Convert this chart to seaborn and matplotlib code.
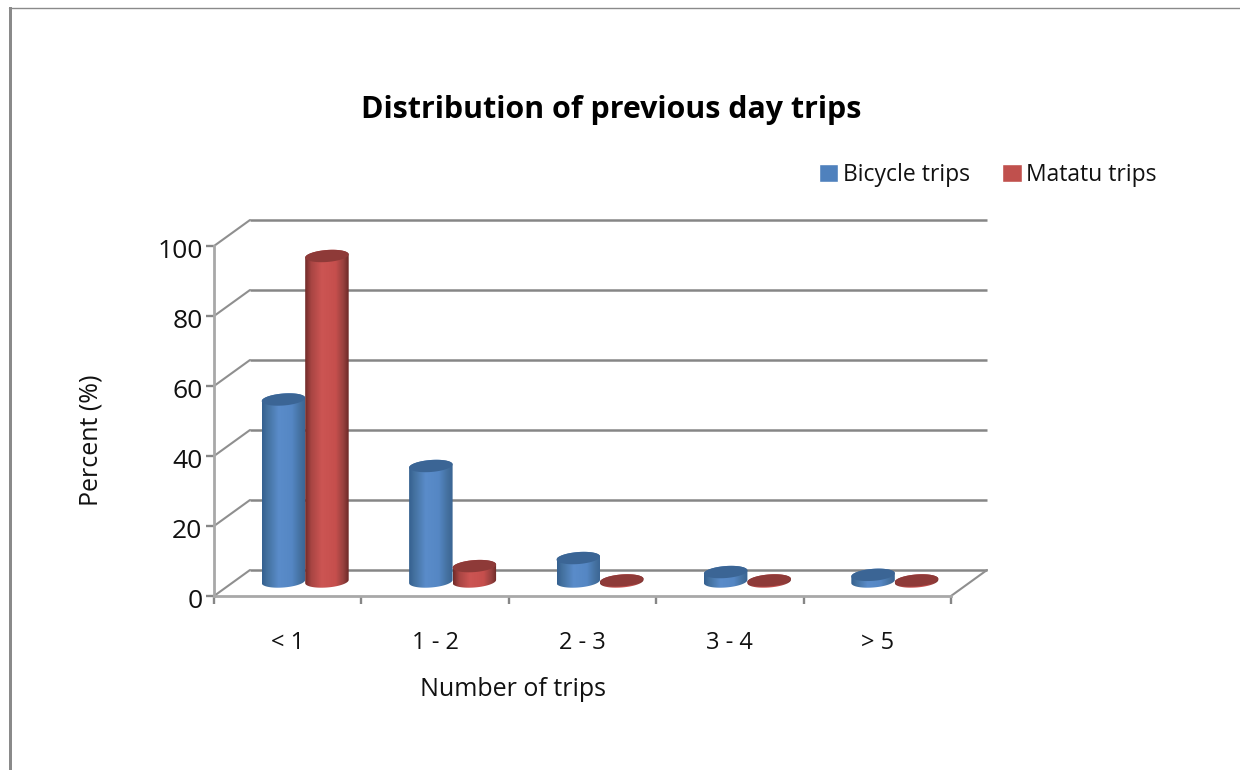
import numpy as np
import pandas as pd
import matplotlib
matplotlib.use("Agg")
import matplotlib.pyplot as plt
import seaborn as sns
from matplotlib.colors import LinearSegmentedColormap
from matplotlib.lines import Line2D
from matplotlib.patches import Patch, Polygon, Rectangle
from matplotlib.path import Path
from matplotlib.transforms import Affine2D, ScaledTranslation

# Survey results
categories = ["< 1", "1 - 2", "2 - 3", "3 - 4", "> 5"]
bicycle_trips = [52, 33, 6.7, 2.7, 1.9]
matatu_trips = [93, 4.4, 0.3, 0.3, 0.3]
series_names = ["Bicycle trips", "Matatu trips"]

W, H = 1240, 770
LEFT, RIGHT, BASE, TOP = 214, 951, 596, 246
PX_X = (RIGHT - LEFT) / len(categories)   # pixels per category
PX_Y = (BASE - TOP) / 100                 # pixels per percent
GRID = "#868686"
AXIS = "#a8a8a8"
INK = "#111111"
FONT = "Open Sans"

sns.set_style("white")
plt.rcParams["font.family"] = [FONT, "DejaVu Sans"]

fig = plt.figure(figsize=(W / 100, H / 100), dpi=100, facecolor="white")
ax = fig.add_axes([LEFT / W, 1 - BASE / H, (RIGHT - LEFT) / W, (BASE - TOP) / H])

table = pd.DataFrame({
    "trips": categories * 2,
    "series": [series_names[0]] * 5 + [series_names[1]] * 5,
    "percent": bicycle_trips + matatu_trips,
})
sns.barplot(data=table, x="trips", y="percent", hue="series", order=categories,
            palette=["#4f81bd", "#c0504d"], width=0.59, gap=0, dodge=True,
            errorbar=None, legend=False, saturation=1, ax=ax, zorder=3)
ax.set_xlim(-0.5, len(categories) - 0.5)
ax.set_ylim(0, 100)

# Back wall and floor of the pseudo-3D box
wall_dx, wall_dy = 36 / PX_X, 26 / PX_Y
x0, x1 = ax.get_xlim()
yticks = np.arange(0, 101, 20)
for y in yticks:
    ax.plot([x0 + wall_dx, x1 + wall_dx], [y + wall_dy] * 2, color=GRID, lw=1.8,
            clip_on=False, zorder=1, solid_capstyle="butt")
    ax.plot([x0, x0 + wall_dx], [y, y + wall_dy], color="#8f8f8f", lw=1.5,
            clip_on=False, zorder=1)
ax.plot([x1, x1 + wall_dx], [0, wall_dy], color="#8f8f8f", lw=1.5, clip_on=False, zorder=1)

# Bars stand in the middle of the floor depth
bar_dx, bar_dy = 17.5 / PX_X, 14.5 / PX_Y
shift = Affine2D().translate(bar_dx, bar_dy) + ax.transData
ramps = [
    LinearSegmentedColormap.from_list("blue", [(0, "#34608f"), (0.12, "#44719f"), (0.38, "#5a8cca"),
                                               (0.68, "#5587c4"), (0.88, "#44709f"), (1, "#3a6593")]),
    LinearSegmentedColormap.from_list("red", [(0, "#702b29"), (0.14, "#a84543"), (0.38, "#cc5553"),
                                              (0.7, "#c64f4d"), (0.88, "#96403e"), (1, "#6b2826")]),
]
caps = ["#3b6595", "#8e3a38"]


def ellipse(cx, cy, half_w, t):
    """Tilted ellipse outline in data units, for the cylinder ends."""
    a, b, rise = half_w * PX_X, 6.0, 1.6
    px = a * np.cos(t)
    py = b * np.sin(t) + rise * np.cos(t)
    return cx + px / PX_X, cy + py / PX_Y


for container, ramp, cap in zip(ax.containers, ramps, caps):
    for bar in container:
        x, w, v = bar.get_x(), bar.get_width(), bar.get_height()
        bar.set_transform(shift)
        bar.set_visible(False)
        cx = x + w / 2 + bar_dx
        low, top = bar_dy, bar_dy + v
        # Body outline: lower arc of the foot, then the upper arc of the head
        lx, ly = ellipse(cx, low, w / 2, np.linspace(np.pi, 2 * np.pi, 40))
        ux, uy = ellipse(cx, top, w / 2, np.linspace(0, np.pi, 40))
        outline = np.column_stack([np.r_[lx, ux], np.r_[ly, uy]])
        img = ax.imshow(np.linspace(0, 1, 128)[None, :], cmap=ramp, aspect="auto",
                        interpolation="bilinear", vmin=0, vmax=1,
                        extent=(cx - w / 2, cx + w / 2, low - 3, top + 3),
                        zorder=3, origin="lower")
        img.set_clip_path(Path(outline), ax.transData)
        hx, hy = ellipse(cx, top, w / 2, np.linspace(0, 2 * np.pi, 80))
        ax.add_patch(Polygon(np.column_stack([hx, hy]), closed=True, facecolor=cap,
                             edgecolor="none", zorder=4))

ax.set_xlim(-0.5, len(categories) - 0.5)
ax.set_ylim(0, 100)

# Axis cosmetics: ticks at category boundaries, labels at the centres
sns.despine(ax=ax)
for side in ("left", "bottom"):
    ax.spines[side].set_color(AXIS)
    ax.spines[side].set_linewidth(2.0)
ax.set_xticks(np.arange(-0.5, len(categories)), labels=[""] * (len(categories) + 1))
ax.set_xticks(np.arange(len(categories)), labels=categories, minor=True)
ax.tick_params(axis="x", which="major", length=5.8, width=1.7, color=GRID, bottom=True)
ax.tick_params(axis="x", which="minor", length=0, pad=25.5, labelsize=17, labelcolor=INK)
ax.set_yticks(yticks, labels=[str(v) for v in yticks])
ax.tick_params(axis="y", length=5.8, width=1.7, color=GRID, pad=2.5, labelsize=19,
               left=True, labelcolor=INK)
# The value labels sit slightly below their tick marks
nudge = ScaledTranslation(0, -2.5 / 100, fig.dpi_scale_trans)
for label in ax.get_yticklabels():
    label.set_transform(label.get_transform() + nudge)

ax.set_xlabel("Number of trips", fontsize=18, va="center", color=INK)
ax.xaxis.set_label_coords(513 / W, 1 - 689 / H, transform=fig.transFigure)
ax.set_ylabel("Percent (%)", fontsize=18, va="center", color=INK)
ax.yaxis.set_label_coords(91 / W, 1 - 440 / H, transform=fig.transFigure)

fig.text(611 / W, 1 - 110 / H, "Distribution of previous day trips", fontsize=21.9,
         fontweight="bold", ha="center", va="center", color="black")

handles = [Patch(facecolor="#4f81bd", label=series_names[0]),
           Patch(facecolor="#c0504d", label=series_names[1])]
fig.legend(handles=handles, ncols=2, loc="center left",
           bbox_to_anchor=(819 / W, 1 - 175 / H), frameon=False, fontsize=16.5,
           handlelength=0.85, handleheight=0.85, handletextpad=0.18,
           columnspacing=1.42, borderpad=0, borderaxespad=0, labelcolor=INK)

# Page frame around the chart
fig.add_artist(Rectangle((9 / W, 0), 3 / W, 1 - 7 / H, transform=fig.transFigure,
                         facecolor="#8a8a8a", edgecolor="none"))
fig.add_artist(Line2D([9 / W, 1], [1 - 7.5 / H] * 2, transform=fig.transFigure,
                      color="#8a8a8a", lw=1.0))

fig.savefig("out.png", dpi=100, facecolor="white")
